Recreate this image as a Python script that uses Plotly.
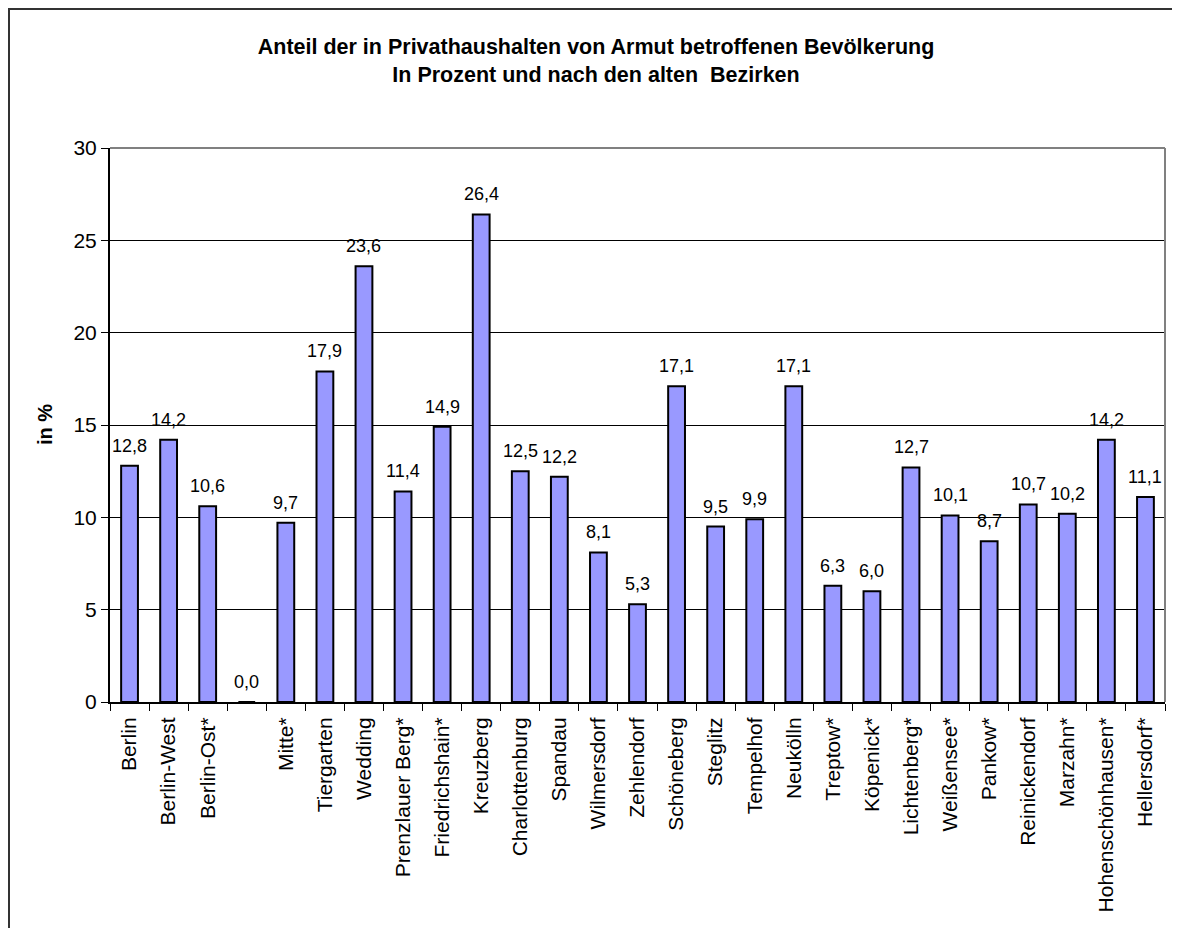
import plotly.graph_objects as go

categories = ["Berlin", "Berlin-West", "Berlin-Ost*", " ", "Mitte*", "Tiergarten", "Wedding",
              "Prenzlauer Berg*", "Friedrichshain*", "Kreuzberg", "Charlottenburg", "Spandau",
              "Wilmersdorf", "Zehlendorf", "Schöneberg", "Steglitz", "Tempelhof", "Neukölln",
              "Treptow*", "Köpenick*", "Lichtenberg*", "Weißensee*", "Pankow*", "Reinickendorf",
              "Marzahn*", "Hohenschönhausen*", "Hellersdorf*"]
values = [12.8, 14.2, 10.6, 0.0, 9.7, 17.9, 23.6, 11.4, 14.9, 26.4, 12.5, 12.2, 8.1, 5.3,
          17.1, 9.5, 9.9, 17.1, 6.3, 6.0, 12.7, 10.1, 8.7, 10.7, 10.2, 14.2, 11.1]
y_ticks = [0, 5, 10, 15, 20, 25, 30]

labels = [f"{v:.1f}".replace(".", ",") for v in values]

FONT = "Liberation Sans, Arial, sans-serif"
W, H = 1180, 928
OFF = 8  # page body margin
L, R, T, B = 110 - OFF, 1180 - (1165 - OFF), 148 - OFF, 928 - (702 - OFF)
pw, ph = W - L - R, H - T - B

def px_x(px):
    return (px - OFF - L) / pw

def px_y(py):
    return (H - B - (py - OFF)) / ph

fig = go.Figure()
fig.add_trace(go.Bar(
    x=categories, y=values,
    marker=dict(color="#9999FF", line=dict(color="black", width=2)),
    showlegend=False, hoverinfo="x+y",
))

value_annotations = [
    dict(x=c, y=v, text=t, xref="x", yref="y", showarrow=False,
         yanchor="bottom", xanchor="center", yshift=8,
         font=dict(size=18, family=FONT, color="black"))
    for c, v, t in zip(categories, values, labels)
]

fig.update_layout(
    width=W, height=H,
    margin=dict(l=L, r=R, t=T, b=B),
    paper_bgcolor="white", plot_bgcolor="white",
    font=dict(family=FONT, color="black", size=20),
    bargap=0.57,
    title=dict(
        text="<b>Anteil der in Privathaushalten von Armut betroffenen Bevölkerung<br>In Prozent und nach den alten  Bezirken</b>",
        x=(596 - OFF) / W, xref="container", xanchor="center",
        y=1 - 46 / H, yref="container", yanchor="top",
        font=dict(size=21.5, family=FONT, color="black"),
    ),
    xaxis=dict(
        type="category", tickangle=-90, tickson="boundaries",
        ticks="outside", ticklen=7, tickcolor="black", tickwidth=1,
        ticklabelstandoff=5,
        showline=True, linecolor="black", linewidth=2,
        showgrid=False, tickfont=dict(size=21, family=FONT),
    ),
    yaxis=dict(
        range=[0, 30], tickvals=y_ticks, ticktext=[str(t) for t in y_ticks],
        ticks="outside", ticklen=7, tickcolor="black", tickwidth=1,
        showline=True, linecolor="black", linewidth=2,
        showgrid=True, gridcolor="black", gridwidth=1,
        zeroline=False, tickfont=dict(size=21, family=FONT),
    ),
    annotations=value_annotations + [dict(
        text="<b>in %</b>", textangle=-90, x=px_x(45), y=0.5,
        xref="paper", yref="paper", showarrow=False,
        xanchor="center", yanchor="middle",
        font=dict(size=20, family=FONT, color="black"),
    )],
    shapes=[
        dict(type="line", xref="paper", yref="paper", x0=0, x1=1, y0=1, y1=1,
             line=dict(color="#808080", width=2), layer="above"),
        dict(type="line", xref="paper", yref="paper", x0=1, x1=1, y0=0, y1=1,
             line=dict(color="#808080", width=2), layer="above"),
        dict(type="rect", xref="paper", yref="paper",
             x0=px_x(9), x1=px_x(1210), y0=px_y(960), y1=px_y(9),
             line=dict(color="#333333", width=2), fillcolor="rgba(0,0,0,0)", layer="below"),
    ],
)

fig.write_html("out.html")
